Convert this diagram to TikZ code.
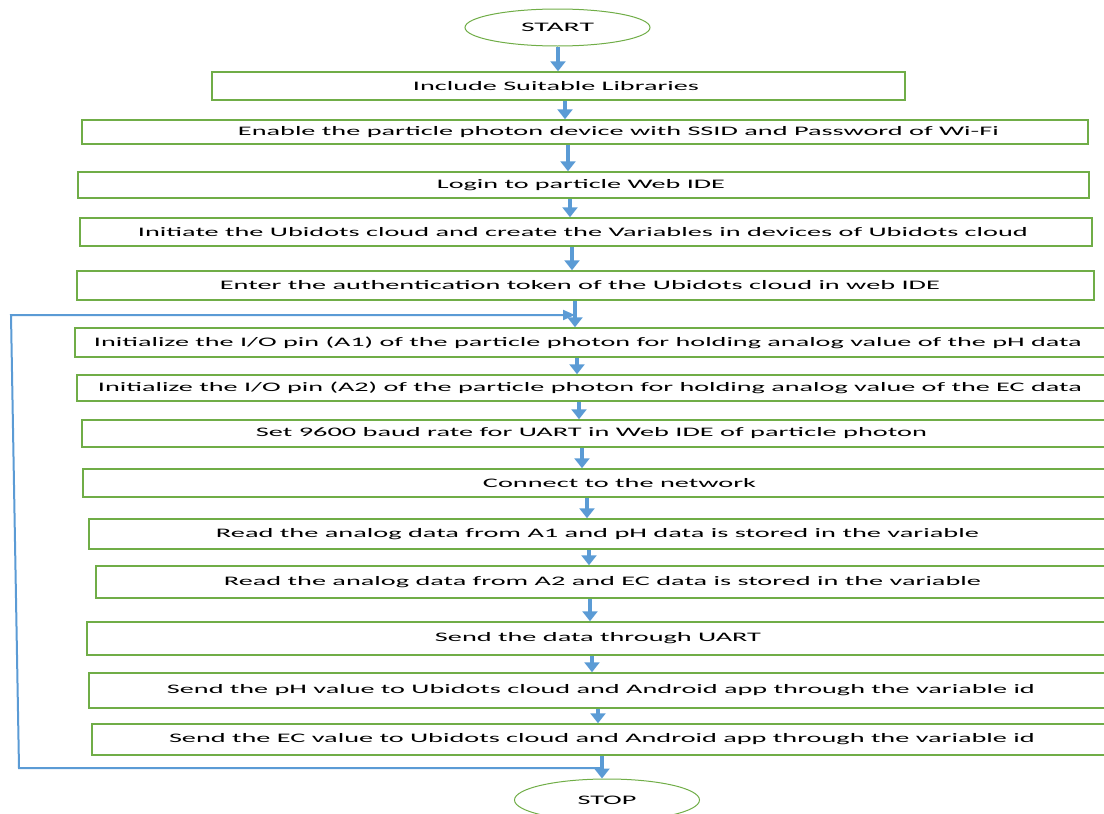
\documentclass[tikz,border=0pt]{standalone}
\usepackage{fontspec}
\setmainfont{Carlito}
\usetikzlibrary{arrows.meta,shapes.geometric,calc}
\definecolor{flowblue}{RGB}{91,155,213}
\definecolor{flowgreen}{RGB}{112,173,71}
\newcommand{\fitt}[3]{\hspace*{#1pt}\resizebox{#2pt}{\height}{#3}}
\begin{document}
\begin{tikzpicture}[x=1pt,y=-1pt,
  stepbox/.style={draw=flowgreen,line width=1.5pt,rectangle,inner sep=0pt,
    font=\fontsize{13}{15}\selectfont},
  term/.style={draw=flowgreen,line width=1pt,ellipse,inner sep=0pt,
    minimum width=185pt,font=\fontsize{13}{15}\selectfont},
  flow/.style={draw=flowblue,line width=3.5pt,-{Triangle[width=15pt,length=10pt]}},
  loopline/.style={draw=flowblue,line width=2pt,-{Triangle[width=10pt,length=12pt]}}]
\useasboundingbox (0,0) rectangle (1104,814);

\node[term,minimum height=37pt] (start) at (557.5,27.5) {\resizebox{73pt}{\height}{START}};
\node[stepbox,minimum width=693pt,minimum height=28pt] (b1) at (558.5,86) {\fitt{-5}{286}{Include Suitable Libraries}};
\node[stepbox,minimum width=1006pt,minimum height=24pt] (b2) at (585,132) {\fitt{67}{761}{Enable the particle photon device with SSID and Password of Wi-Fi}};
\node[stepbox,minimum width=1011pt,minimum height=26pt] (b3) at (583.5,185) {\fitt{-5}{288}{Login to particle Web IDE}};
\node[stepbox,minimum width=1012pt,minimum height=28pt] (b4) at (586,232) {\fitt{-6}{890}{Initiate the Ubidots cloud and create the Variables in devices of Ubidots cloud}};
\node[stepbox,minimum width=1017pt,minimum height=29pt] (b5) at (585.5,285.5) {\fitt{-11}{720}{Enter the authentication token of the Ubidots cloud in web IDE}};
\node[stepbox,minimum width=1035pt,minimum height=29pt] (b6) at (592.5,342.5) {\fitt{-9}{988}{Initialize the I/O pin (A1) of the particle photon for holding analog value of the pH data}};
\node[stepbox,minimum width=1033pt,minimum height=26pt] (b7) at (593.5,388) {\fitt{-7}{984}{Initialize the I/O pin (A2) of the particle photon for holding analog value of the EC data}};
\node[stepbox,minimum width=1028pt,minimum height=27pt] (b8) at (596,433.5) {\fitt{-9}{671}{Set 9600 baud rate for UART in Web IDE of particle photon}};
\node[stepbox,minimum width=1027pt,minimum height=28pt] (b9) at (596.5,483) {\fitt{46}{273}{Connect to the network}};
\node[stepbox,minimum width=1021pt,minimum height=30pt] (b10) at (599.5,534) {\fitt{-4}{763}{Read the analog data from A1 and pH data is stored in the variable}};
\node[stepbox,minimum width=1014pt,minimum height=32pt] (b11) at (603,582) {\fitt{-1}{757}{Read the analog data from A2 and EC data is stored in the variable}};
\node[stepbox,minimum width=1023pt,minimum height=33pt] (b12) at (598.5,638.5) {\fitt{-1}{326}{Send the data through UART}};
\node[stepbox,minimum width=1021pt,minimum height=35pt] (b13) at (599.5,690.5) {\fitt{3}{868}{Send the pH value to Ubidots cloud and Android app through the variable id}};
\node[stepbox,minimum width=1018pt,minimum height=31pt] (b14) at (601,739.5) {\fitt{2}{866}{Send the EC value to Ubidots cloud and Android app through the variable id}};
\node[term,minimum height=42pt] (stop) at (607,800) {\resizebox{59pt}{\height}{STOP}};

% loop back
\coordinate (lpS) at (602,768);
\coordinate (lpE) at (575,315);
\draw[loopline] (lpS) -- (19,768) -- (11,315) -- (lpE);

% main flow
\draw[flow] (start.south -| 558,0) -- (b1.north -| 558,0);
\draw[flow] (b1.south -| 565,0) -- (b2.north -| 565,0);
\draw[flow] (b2.south -| 568,0) -- (b3.north -| 568,0);
\draw[flow] (b3.south -| 570,0) -- (b4.north -| 570,0);
\draw[flow] (b4.south -| 572,0) -- (b5.north -| 572,0);
\draw[flow] (b5.south -| 575,0) -- (b6.north -| 575,0);
\draw[flow] (b6.south -| 577,0) -- (b7.north -| 577,0);
\draw[flow] (b7.south -| 579,0) -- (b8.north -| 579,0);
\draw[flow] (b8.south -| 582,0) -- (b9.north -| 582,0);
\draw[flow] (b9.south -| 587,0) -- (b10.north -| 587,0);
\draw[flow] (b10.south -| 589,0) -- (b11.north -| 589,0);
\draw[flow] (b11.south -| 590,0) -- (b12.north -| 590,0);
\draw[flow] (b12.south -| 592,0) -- (b13.north -| 592,0);
\draw[flow] (b13.south -| 598,0) -- (b14.north -| 598,0);
\draw[flow] (b14.south -| 602,0) -- (stop.north -| 602,0);
\end{tikzpicture}
\end{document}
